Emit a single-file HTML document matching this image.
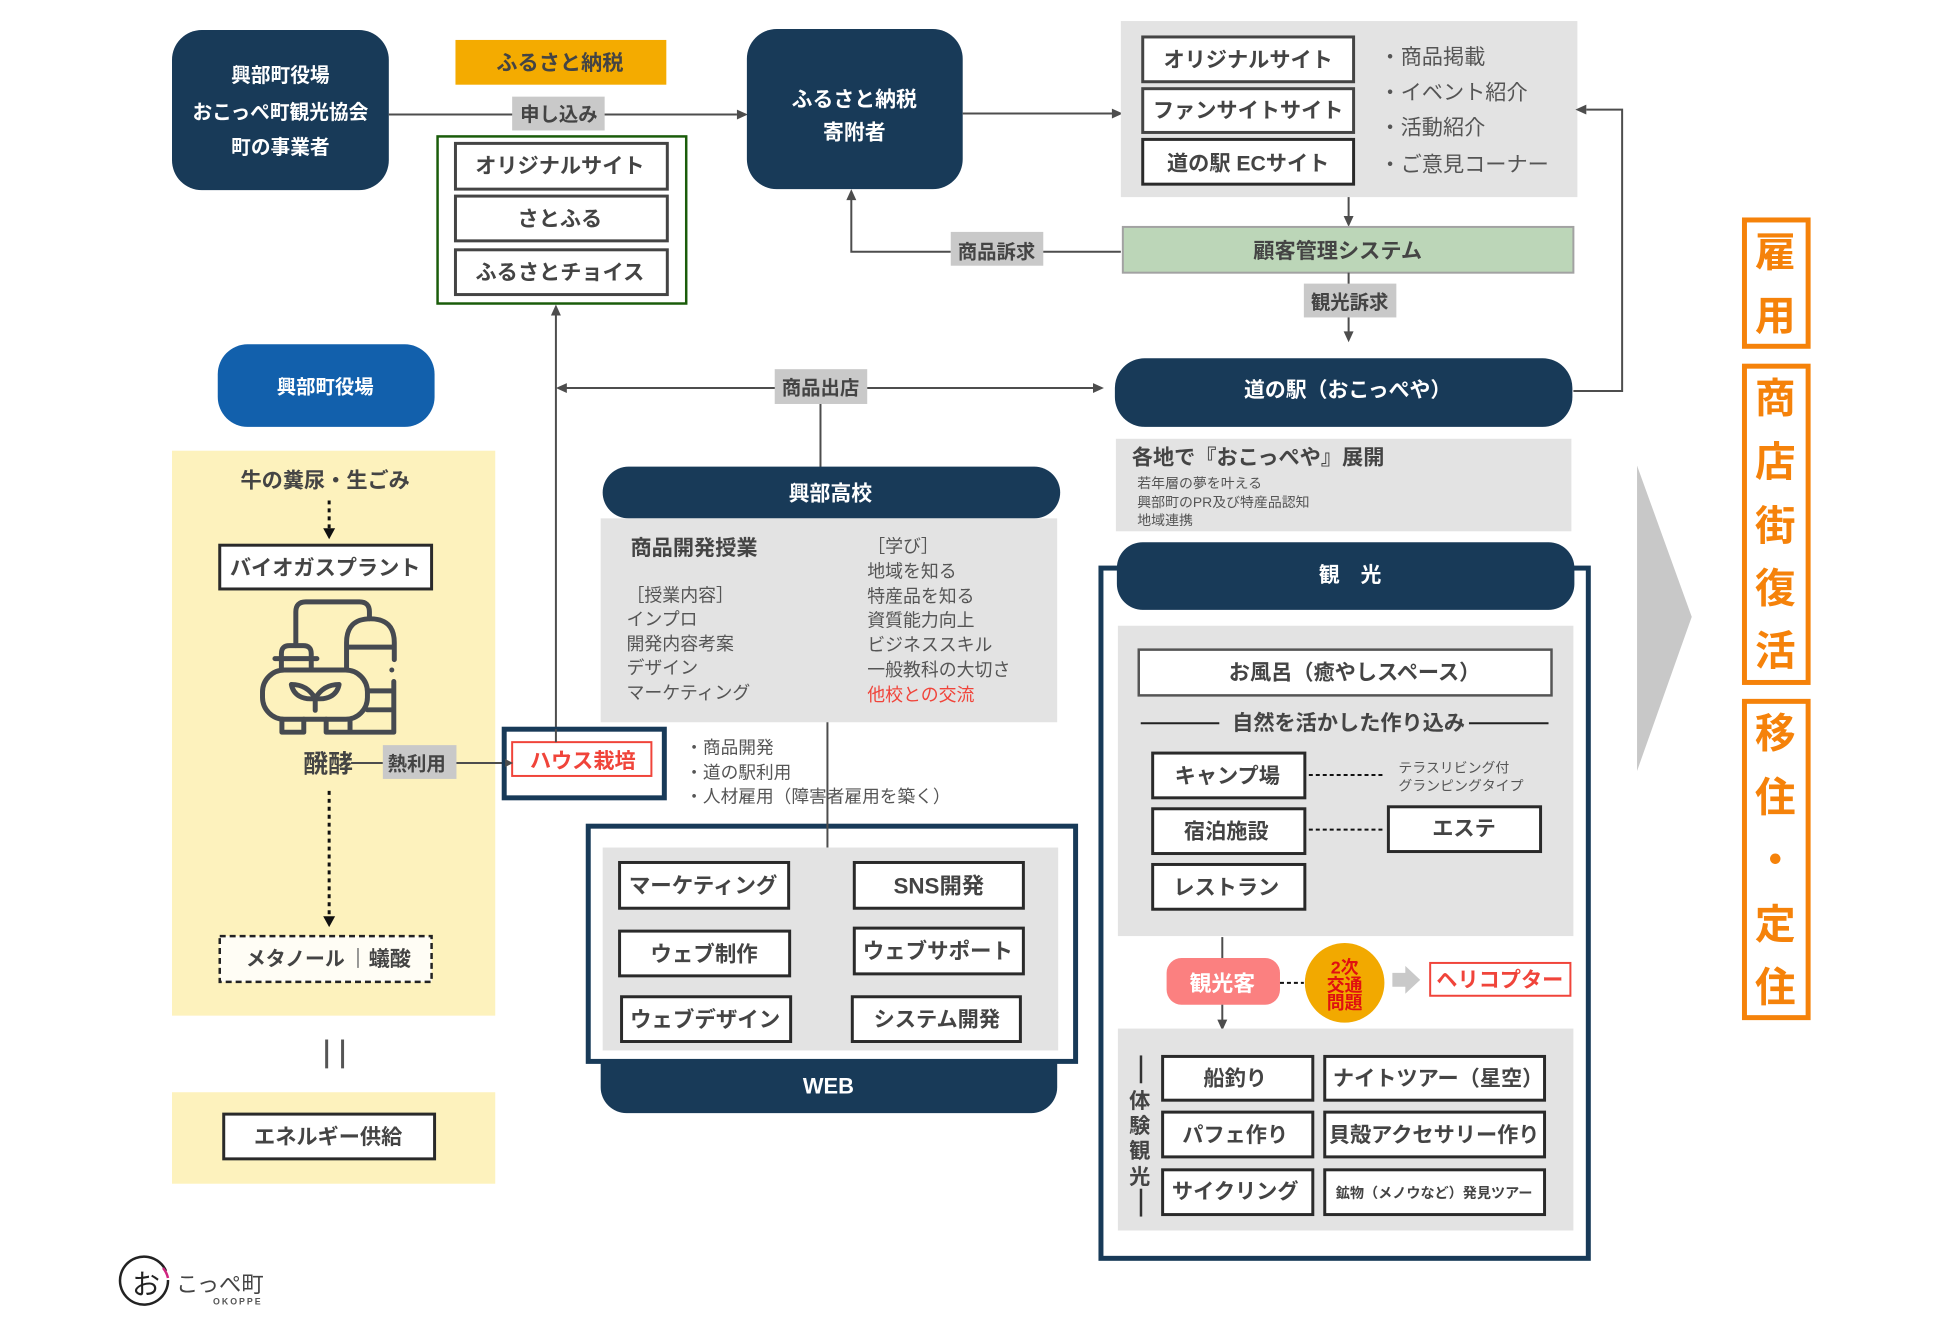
<!DOCTYPE html>
<html lang="ja">
<head>
<meta charset="utf-8">
<title>興部町 構想図</title>
<style>
html,body{margin:0;padding:0;background:#fff;width:1950px;height:1324px;overflow:hidden}
svg{display:block;filter:blur(.35px)}
text{font-family:"Liberation Sans","Noto Sans CJK JP",sans-serif;dominant-baseline:central;transform:translateY(1.5px)}
.c{text-anchor:middle;font-weight:700;font-size:21.3px;fill:#444}
.w{text-anchor:middle;font-weight:700;fill:#fff;font-size:21px}
.l{font-size:18px;fill:#555}
.box{fill:#fff;stroke:#2a2a2a;stroke-width:3}
.gbox{fill:#fff;stroke:#444;stroke-width:3}
.ln{stroke:#4d4d4d;stroke-width:2;fill:none}
.ar{fill:#4d4d4d}
.lb{fill:#c9c9c9}
.pn{fill:#e3e3e3}
.yl{fill:#fdf2bd}
.nv{fill:#183a58}
.fr{fill:#fff;stroke:#183a58;stroke-width:5}
.ds{stroke:#111;stroke-width:3;stroke-dasharray:4 4;fill:none}
.og{fill:none;stroke:#f5820a;stroke-width:5}
.ot{text-anchor:middle;font-weight:700;font-size:41px;fill:#f5820a;transform:translateY(.5px)}
.ic{fill:none;stroke:#464a50;stroke-width:5;stroke-linecap:round;stroke-linejoin:round}
</style>
</head>
<body>
<svg width="1950" height="1324" viewBox="0 0 1950 1324" xmlns="http://www.w3.org/2000/svg">
<rect width="1950" height="1324" fill="#fff"/>

<!-- logo -->
<path d="M166 1271A24 24 0 1 0 168 1280" fill="none" stroke="#222" stroke-width="2.500"/>
<path d="M163 1268A24 24 0 0 1 168 1278" fill="none" stroke="#d0257f" stroke-width="2.500"/>
<text x="146" y="1283" text-anchor="middle" style="font-size:28px;fill:#222">お</text>
<text x="176" y="1283" style="font-size:22.3px;fill:#444">こっぺ町</text>
<text x="213" y="1300" style="font-size:8.800px;font-weight:700;fill:#555;letter-spacing:2px">OKOPPE</text>

<g transform="translate(172 30) scale(.9946) translate(-172 -30)">
<!-- top-left -->
<rect class="nv" x="172" y="30" width="218" height="161" rx="30"/>
<text class="w" x="281" y="75" style="font-size:19.8px">興部町役場</text>
<text class="w" x="281" y="112" style="font-size:19.8px">おこっぺ町観光協会</text>
<text class="w" x="281" y="147" style="font-size:19.8px">町の事業者</text>

<rect x="457" y="40" width="212" height="45" fill="#f4ab00"/>
<text class="c" x="562" y="62" fill="#554">ふるさと納税</text>

<line class="ln" x1="390" y1="115" x2="740" y2="115"/>
<polygon class="ar" points="751,115 740,110 740,120"/>
<rect class="lb" x="514" y="97" width="93" height="34"/>
<text class="c" x="561" y="114" style="font-size:19.5px">申し込み</text>

<rect x="439" y="137" width="250" height="168" fill="#fff" stroke="#1a5c0a" stroke-width="2.5"/>
<rect class="gbox" x="457" y="144" width="213" height="46"/>
<rect class="gbox" x="457" y="197" width="213" height="45"/>
<rect class="gbox" x="457" y="251" width="213" height="45"/>
<text class="c" x="562" y="166">オリジナルサイト</text>
<text class="c" x="562" y="219">さとふる</text>
<text class="c" x="562" y="273">ふるさとチョイス</text>

<rect class="nv" x="750" y="29" width="217" height="161" rx="30"/>
<text class="w" x="858" y="99">ふるさと納税</text>
<text class="w" x="858" y="132">寄附者</text>

<polyline class="ln" points="855,200 855,253 955,253"/>
<polygon class="ar" points="855,190 850,201 860,201"/>
<rect class="lb" x="955" y="233" width="93" height="34"/>
<text class="c" x="1001" y="252" style="font-size:19.5px">商品訴求</text>
<line class="ln" x1="1048" y1="253" x2="1126" y2="253"/>

<!-- top right -->
<line class="ln" x1="967" y1="114" x2="1118" y2="114"/>
<polygon class="ar" points="1128,114 1117,109 1117,119"/>
<rect class="pn" x="1126" y="21" width="459" height="177"/>
<rect class="gbox" x="1148" y="37" width="212" height="45"/>
<rect class="gbox" x="1148" y="89" width="212" height="44"/>
<rect class="box" x="1148" y="140" width="212" height="45"/>
<text class="c" x="1254" y="59">オリジナルサイト</text>
<text class="c" x="1254" y="110">ファンサイトサイト</text>
<text class="c" x="1254" y="163">道の駅 ECサイト</text>
<text class="l" style="font-size:21.3px" x="1386" y="56">・商品掲載</text>
<text class="l" style="font-size:21.3px" x="1386" y="92">・イベント紹介</text>
<text class="l" style="font-size:21.3px" x="1386" y="127">・活動紹介</text>
<text class="l" style="font-size:21.3px" x="1386" y="164">・ご意見コーナー</text>

<line class="ln" x1="1355" y1="198" x2="1355" y2="218"/>
<polygon class="ar" points="1355,228 1350,217 1360,217"/>
<rect x="1128" y="228" width="453" height="46" fill="#bcd6b8" stroke="#a2a2a2" stroke-width="2"/>
<text class="c" x="1344" y="251">顧客管理システム</text>

<line class="ln" x1="1355" y1="274" x2="1355" y2="286"/>
<rect class="lb" x="1310" y="285" width="93" height="34"/>
<text class="c" x="1356" y="303" style="font-size:19.5px">観光訴求</text>
<line class="ln" x1="1355" y1="319" x2="1355" y2="334"/>
<polygon class="ar" points="1355,344 1350,333 1360,333"/>

<rect class="nv" x="1120" y="360" width="460" height="69" rx="30"/>
<text class="w" x="1354" y="391">道の駅（おこっぺや）</text>

<polyline class="ln" points="1581,393 1630,393 1630,110 1594,110"/>
<polygon class="ar" points="1583,110 1594,105 1594,115"/>

<rect class="pn" x="1121" y="441" width="458" height="93"/>
<text x="1137" y="459" style="font-weight:700;font-size:21.300px;fill:#444">各地で『おこっぺや』展開</text>
<text x="1142.500" y="484" style="font-size:14px;fill:#555">若年層の夢を叶える</text>
<text x="1142.500" y="503" style="font-size:14px;fill:#555">興部町のPR及び特産品認知</text>
<text x="1142.500" y="521" style="font-size:14px;fill:#555">地域連携</text>

<!-- centre connectors -->
<line class="ln" x1="558" y1="316" x2="558" y2="745"/>
<polygon class="ar" points="558,306 553,317 563,317"/>
<line class="ln" x1="568" y1="390" x2="780" y2="390"/>
<polygon class="ar" points="558,390 569,385 569,395"/>
<rect class="lb" x="778" y="371" width="93" height="35"/>
<text class="c" x="824" y="389" style="font-size:19.5px">商品出店</text>
<line class="ln" x1="871" y1="390" x2="1099" y2="390"/>
<polygon class="ar" points="1109,390 1098,385 1098,395"/>
<line class="ln" x1="824" y1="406" x2="824" y2="470"/>

<!-- blue -->
<rect x="218" y="346" width="218" height="83" rx="30" fill="#1260ac"/>
<text class="w" x="326" y="388" style="font-size:19.5px">興部町役場</text>

<!-- yellow -->
<rect class="yl" x="172" y="453" width="325" height="568"/>
<text class="c" x="326" y="482">牛の糞尿・生ごみ</text>
<line class="ds" x1="330" y1="503" x2="330" y2="532"/>
<polygon points="330,542 324,531 336,531" fill="#111"/>
<rect class="box" x="220" y="548" width="213" height="44"/>
<text class="c" x="326" y="570">バイオガスプラント</text>

<g transform="translate(1,2)">
<rect class="ic" x="262" y="671.5" width="105.500" height="49.500" rx="22"/>
<path class="ic" d="M281 671V655q0-8 8-8h14q8 0 8 8v16M274.500 660H316.700"/>
<path class="ic" d="M295.500 647V613q0-10 10-10h54q10 0 10 10v7"/>
<path class="ic" d="M346.500 671V644q0-24 24-24t24 24v17M346.500 648.500H394"/>
<circle cx="392" cy="671.500" r="2.500" fill="#464a50"/>
<path class="ic" d="M394 683V734H326V721M367.500 692.500H392M367.500 711.500H392M281.500 721V734H303.500V721M350 721V734"/>
<path class="ic" d="M315 712V700M315 700C308 688 298 686 291 686C293 697 303 702 315 700C327 702 337 697 339 686C332 686 322 688 315 700Z"/>
</g>

<text class="c" x="329" y="767" style="font-size:25px">醗酵</text>
<line class="ln" x1="352" y1="767" x2="384" y2="767"/>
<rect class="lb" x="384" y="749" width="74" height="34"/>
<text class="c" x="418" y="767" style="font-size:19.5px">熱利用</text>
<line class="ln" x1="458" y1="767" x2="510" y2="767"/>

<rect class="fr" x="506" y="733" width="161" height="69"/>
<rect x="514" y="746" width="140" height="34" fill="#fff" stroke="#f0443a" stroke-width="2"/>
<polygon class="ar" points="515,767 507,763 507,771"/>
<line class="ln" x1="558" y1="733" x2="558" y2="746"/>
<text class="c" x="585" y="764" style="font-size:21.3px;fill:#f0443a">ハウス栽培</text>

<line class="ds" x1="330" y1="795" x2="330" y2="922"/>
<polygon points="330,932 324,921 336,921" fill="#111"/>
<rect x="220" y="941" width="213" height="46" fill="#fffdf5" stroke="#222" stroke-width="2.500" stroke-dasharray="6 4"/>
<text class="c" x="296" y="963" style="font-size:20px">メタノール</text>
<line x1="359" y1="953" x2="359" y2="973" stroke="#777" stroke-width="1.500"/>
<text class="c" x="391" y="963">蟻酸</text>

<rect x="326" y="1045" width="3" height="29" fill="#555"/>
<rect x="342" y="1045" width="3" height="29" fill="#555"/>

<rect class="yl" x="172" y="1098" width="325" height="92"/>
<rect class="box" x="224" y="1120" width="212" height="45"/>
<text class="c" x="329" y="1142">エネルギー供給</text>

<!-- school -->
<rect class="nv" x="605" y="469" width="460" height="52" rx="26"/>
<text class="w" x="834" y="495">興部高校</text>
<rect class="pn" x="603" y="521" width="459" height="205"/>
<text x="633" y="550" style="font-weight:700;font-size:21.300px;fill:#444">商品開発授業</text>
<text class="l" x="629" y="597">［授業内容］</text>
<text class="l" x="629" y="621">インプロ</text>
<text class="l" x="629" y="646">開発内容考案</text>
<text class="l" x="629" y="670">デザイン</text>
<text class="l" x="629" y="695">マーケティング</text>
<text class="l" x="871" y="548">［学び］</text>
<text class="l" x="871" y="573">地域を知る</text>
<text class="l" x="871" y="598">特産品を知る</text>
<text class="l" x="871" y="622">資質能力向上</text>
<text class="l" x="871" y="647">ビジネススキル</text>
<text class="l" x="871" y="672">一般教科の大切さ</text>
<text class="l" x="871" y="697" style="fill:#f0443a">他校との交流</text>

<text class="l" style="font-size:17.800px" x="688" y="750">・商品開発</text>
<text class="l" style="font-size:17.800px" x="688" y="775">・道の駅利用</text>
<text class="l" style="font-size:17.800px" x="688" y="799">・人材雇用（障害者雇用を築く）</text>

<!-- web -->
<rect class="nv" x="603" y="1040" width="459" height="79" rx="26"/>
<text class="w" x="832" y="1090" style="font-size:22px">WEB</text>
<rect class="fr" x="590.500" y="830.500" width="490" height="236.500"/>
<rect class="pn" x="605" y="852" width="458" height="204"/>
<line class="ln" x1="831" y1="726" x2="831" y2="852"/>
<rect class="box" x="622" y="867" width="170" height="46"/>
<text class="c" x="706" y="889" style="font-size:21.6px">マーケティング</text>
<rect class="box" x="622" y="936" width="171" height="45"/>
<text class="c" x="707" y="958" style="font-size:21.6px">ウェブ制作</text>
<rect class="box" x="624" y="1002" width="170" height="45"/>
<text class="c" x="708" y="1024" style="font-size:21.6px">ウェブデザイン</text>
<rect class="box" x="858" y="867" width="170" height="46"/>
<text class="c" x="943" y="889" style="font-size:22.5px">SNS開発</text>
<rect class="box" x="858" y="933" width="170" height="46"/>
<text class="c" x="942" y="955" style="font-size:21.6px">ウェブサポート</text>
<rect class="box" x="856" y="1002" width="169" height="45"/>
<text class="c" x="941" y="1024">システム開発</text>

<!-- tourism -->
<rect class="fr" x="1106" y="571" width="490" height="694"/>
<rect class="nv" x="1122" y="545" width="460" height="68" rx="26"/>
<text class="w" x="1356.500" y="577">観　光</text>
<rect class="pn" x="1123" y="629" width="458" height="312"/>
<rect x="1144" y="653" width="415" height="46" fill="#fff" stroke="#555" stroke-width="2.500"/>
<text class="c" x="1361" y="675">お風呂（癒やしスペース）</text>
<text class="c" x="1355" y="726">自然を活かした作り込み</text>
<line x1="1146" y1="727" x2="1225" y2="727" stroke="#222" stroke-width="2"/>
<line x1="1476" y1="727" x2="1556" y2="727" stroke="#222" stroke-width="2"/>
<rect class="box" x="1158" y="757" width="153" height="45"/>
<text class="c" x="1233" y="779">キャンプ場</text>
<rect class="box" x="1158" y="813" width="153" height="45"/>
<text class="c" x="1232" y="835">宿泊施設</text>
<rect class="box" x="1158" y="869" width="153" height="45"/>
<text class="c" x="1232" y="891">レストラン</text>
<line x1="1315" y1="779" x2="1390" y2="779" stroke="#111" stroke-width="2" stroke-dasharray="4 3"/>
<line x1="1315" y1="834" x2="1390" y2="834" stroke="#111" stroke-width="2" stroke-dasharray="4 3"/>
<rect class="box" x="1395" y="811" width="153" height="45"/>
<text class="c" x="1471" y="832">エステ</text>
<text x="1405" y="770" style="font-size:14px;fill:#555">テラスリビング付</text>
<text x="1405" y="788" style="font-size:14px;fill:#555">グランピングタイプ</text>

<line class="ln" x1="1228" y1="942" x2="1228" y2="964"/>
<rect x="1172" y="963" width="114" height="47" rx="15" fill="#fb8080"/>
<text class="w" x="1228" y="987" style="font-size:22px">観光客</text>
<line x1="1286" y1="988" x2="1310" y2="988" stroke="#111" stroke-width="2" stroke-dasharray="4 3"/>
<circle cx="1351" cy="988" r="40" fill="#f2a900"/>
<g style="font-size:18px;font-weight:700;fill:#e01010;text-anchor:middle">
<text x="1351" y="971">2次</text>
<text x="1351" y="989">交通</text>
<text x="1351" y="1007">問題</text>
</g>
<polygon points="1399,978 1412,978 1412,971 1427,985 1412,999 1412,992 1399,992" fill="#c9c9c9"/>
<rect x="1437" y="968" width="141" height="33" fill="#fff" stroke="#f0443a" stroke-width="2"/>
<text class="c" x="1507" y="984" style="fill:#f0443a">ヘリコプター</text>
<line class="ln" x1="1228" y1="1010" x2="1228" y2="1026"/>
<polygon class="ar" points="1228,1036 1223,1025 1233,1025"/>

<rect class="pn" x="1123" y="1034" width="458" height="203"/>
<rect x="1145" y="1061" width="2.500" height="28" fill="#333"/>
<rect x="1145" y="1195" width="2.500" height="28" fill="#333"/>
<text class="c" x="1145" y="1106">体</text>
<text class="c" x="1145" y="1131">験</text>
<text class="c" x="1145" y="1156">観</text>
<text class="c" x="1145" y="1182">光</text>
<rect class="box" x="1168" y="1062" width="151" height="44"/>
<text class="c" x="1241" y="1083">船釣り</text>
<rect class="box" x="1331" y="1062" width="221" height="44"/>
<text class="c" x="1445" y="1083" style="font-size:21.3px">ナイトツアー（星空）</text>
<rect class="box" x="1168" y="1118" width="151" height="45"/>
<text class="c" x="1241" y="1140">パフェ作り</text>
<rect class="box" x="1331" y="1118" width="221" height="45"/>
<text class="c" x="1441" y="1140" style="font-size:21.3px">貝殻アクセサリー作り</text>
<rect class="box" x="1168" y="1176" width="151" height="45"/>
<text class="c" x="1241" y="1197">サイクリング</text>
<rect class="box" x="1331" y="1176" width="221" height="45"/>
<text class="c" x="1441" y="1198" style="font-size:14.2px">鉱物（メノウなど）発見ツアー</text>

<!-- right arrow + banners -->
<polygon points="1645,468 1700,620 1645,775" fill="#c8c8c8"/>
<rect class="og" x="1753" y="221" width="64" height="127"/>
<rect class="og" x="1753" y="368" width="64" height="318"/>
<rect class="og" x="1753" y="705" width="64" height="318"/>
<text class="ot" x="1784" y="253">雇</text>
<text class="ot" x="1784" y="317">用</text>
<text class="ot" x="1784" y="400">商</text>
<text class="ot" x="1784" y="464">店</text>
<text class="ot" x="1784" y="528">街</text>
<text class="ot" x="1784" y="591">復</text>
<text class="ot" x="1784" y="654">活</text>
<text class="ot" x="1784" y="737">移</text>
<text class="ot" x="1784" y="801">住</text>
<text class="ot" x="1784" y="864">・</text>
<text class="ot" x="1784" y="929">定</text>
<text class="ot" x="1784" y="992">住</text>
</g>
</svg>
</body>
</html>
